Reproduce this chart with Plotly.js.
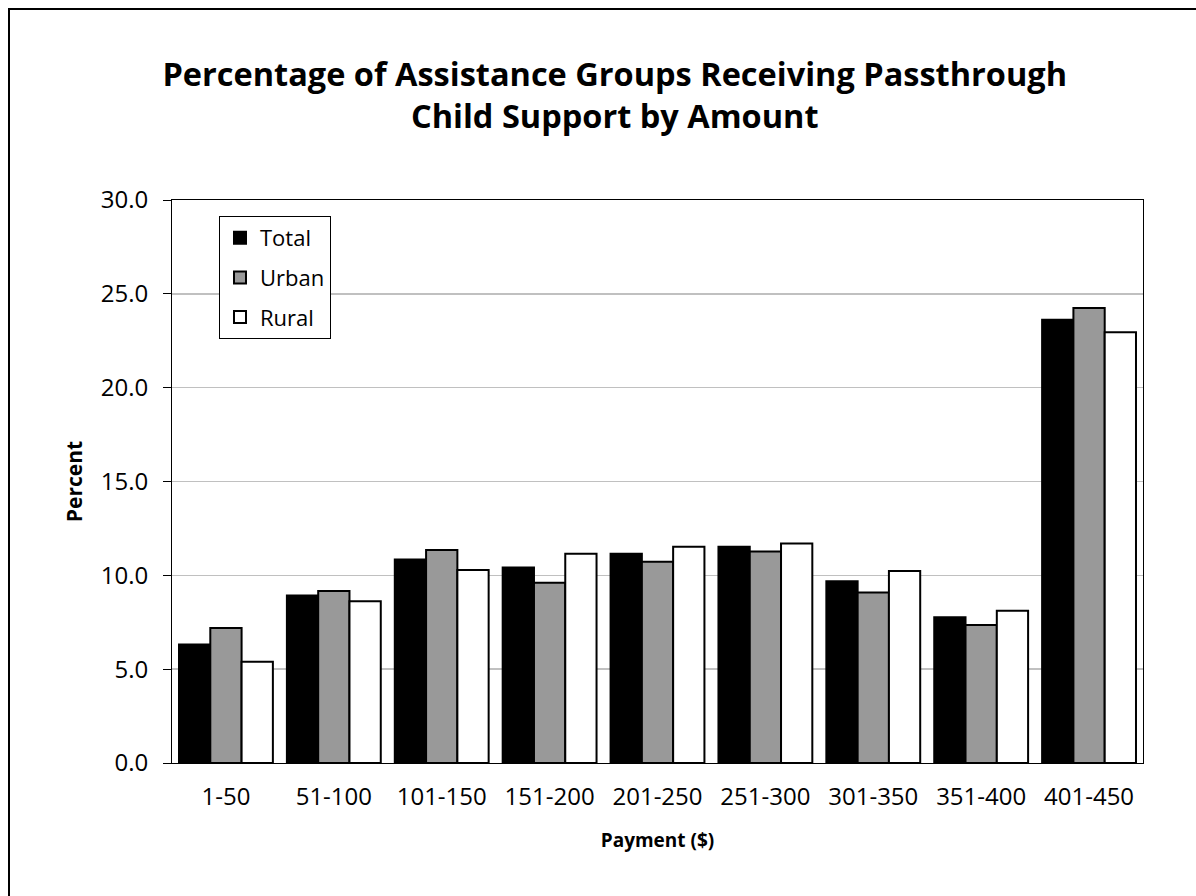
<!DOCTYPE html>
<html>
<head>
<meta charset="utf-8">
<script src="https://cdn.plot.ly/plotly-3.0.1.min.js"></script>
<style>
  html, body { margin: 0; padding: 0; background: #fff; }
  #chart { position: absolute; left: 0; top: 0; width: 1196px; height: 896px; }
  #frame { position: absolute; left: 8px; top: 8px; right: 0; bottom: 0;
           border-top: 2px solid #000; border-left: 2px solid #000; pointer-events: none; }
</style>
</head>
<body>
<div id="chart"></div>
<div id="frame"></div>
<script>
const categories = ["1-50", "51-100", "101-150", "151-200", "201-250", "251-300", "301-350", "351-400", "401-450"];
const totalValues = [6.32, 8.93, 10.84, 10.42, 11.15, 11.52, 9.68, 7.77, 23.62];
const urbanValues = [7.20, 9.17, 11.35, 9.60, 10.72, 11.27, 9.09, 7.36, 24.24];
const ruralValues = [5.40, 8.62, 10.29, 11.15, 11.52, 11.70, 10.23, 8.11, 22.95];
const yTickValues = [0, 5, 10, 15, 20, 25, 30];
const yTickLabels = ["0.0", "5.0", "10.0", "15.0", "20.0", "25.0", "30.0"];

const FONT = "Open Sans, Lato, sans-serif";

function barTrace(name, values, fill, group) {
  return {
    type: "bar",
    name: name,
    x: categories,
    y: values,
    legendgroup: group,
    marker: { color: fill, line: { color: "#000", width: 2 } },
    hoverinfo: "x+y+name"
  };
}

const data = [
  barTrace("Total", totalValues, "#000000", "g1"),
  barTrace("Urban", urbanValues, "#999999", "g2"),
  barTrace("Rural", ruralValues, "#ffffff", "g3")
];

const layout = {
  width: 1196,
  height: 896,
  paper_bgcolor: "#fff",
  plot_bgcolor: "#fff",
  margin: { l: 172, r: 53, t: 200, b: 133, pad: 0 },
  font: { family: FONT, color: "#000", size: 22 },
  title: {
    text: "<b>Percentage of Assistance Groups Receiving Passthrough<br>Child Support by Amount</b>",
    font: { family: FONT, size: 32.5, color: "#000" },
    x: 0.514, xanchor: "center", xref: "container",
    y: 0.904, yanchor: "top", yref: "container"
  },
  barmode: "group",
  bargap: 0.13,
  bargroupgap: 0,
  showlegend: true,
  legend: {
    x: 0.0484, y: 0.9716, xanchor: "left", yanchor: "top",
    bordercolor: "#000", borderwidth: 1, bgcolor: "#fff",
    font: { family: FONT, size: 22, color: "#000" },
    tracegroupgap: 8,
    traceorder: "grouped"
  },
  xaxis: {
    type: "category",
    showline: true, linecolor: "#000", linewidth: 1, mirror: true,
    ticks: "", showgrid: false,
    ticklabelstandoff: 12,
    tickfont: { family: FONT, size: 24, color: "#000" },
    title: { text: "<b>Payment ($)</b>", font: { family: FONT, size: 19, color: "#000" }, standoff: 22 }
  },
  yaxis: {
    range: [0, 30],
    tickvals: yTickValues,
    ticktext: yTickLabels,
    showline: true, linecolor: "#000", linewidth: 1, mirror: true,
    ticks: "outside", ticklen: 8, tickcolor: "#000",
    ticklabelstandoff: 10,
    showgrid: true, gridcolor: "#c0c0c0", gridwidth: 1.5,
    zeroline: false,
    tickfont: { family: FONT, size: 24, color: "#000" },
    title: { text: "<b>Percent</b>", font: { family: FONT, size: 21, color: "#000" }, standoff: 12 }
  }
};

Plotly.newPlot("chart", data, layout, { displayModeBar: false, staticPlot: true });
</script>
</body>
</html>
